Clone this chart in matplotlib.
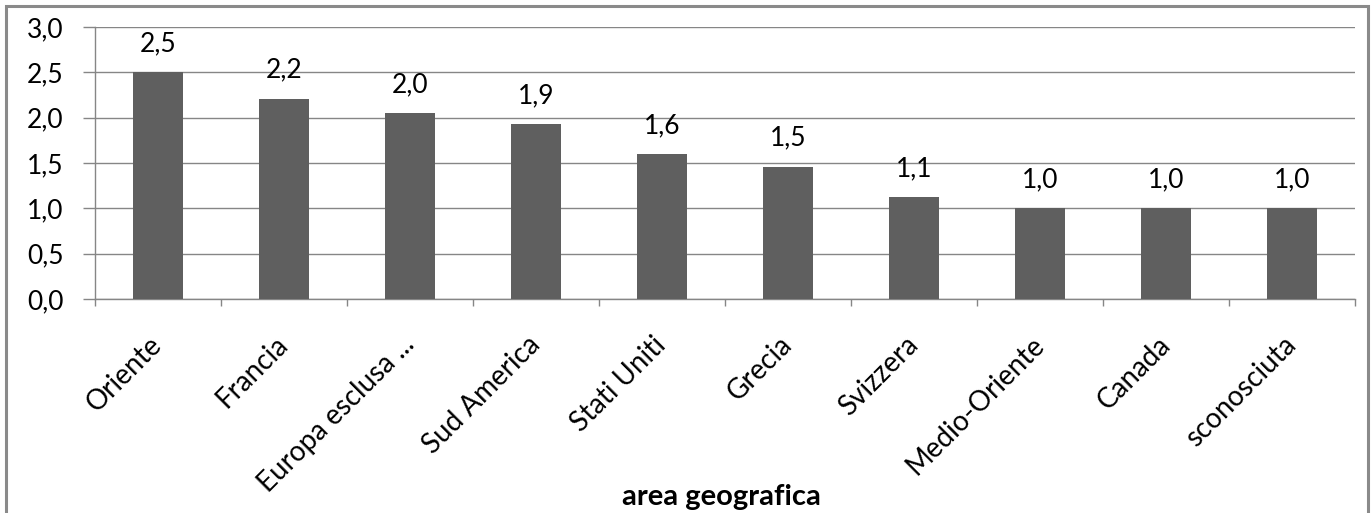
import matplotlib.pyplot as plt
import numpy as np
from matplotlib.patches import Rectangle

# media per area geografica
aree = ["Oriente", "Francia", "Europa esclusa ...", "Sud America", "Stati Uniti",
        "Grecia", "Svizzera", "Medio-Oriente", "Canada", "sconosciuta"]
valori = [2.50, 2.21, 2.047, 1.93, 1.60, 1.46, 1.12, 1.00, 1.00, 1.00]
y_ticks = [0.0, 0.5, 1.0, 1.5, 2.0, 2.5, 3.0]

plt.rcParams['font.family'] = ['Lato', 'DejaVu Sans']

grid_col = '#868686'
bar_col = '#5f5f5f'
fs = 19


def virgola(v):
    return f"{v:.1f}".replace('.', ',')


fig = plt.figure(figsize=(13.71, 5.13), dpi=100)
ax = fig.add_axes([95 / 1371, 1 - 299 / 513, 1260 / 1371, 272 / 513])

x = np.arange(len(aree))
ax.bar(x, valori, width=0.39, color=bar_col, zorder=3)

for xi, v in zip(x, valori):
    ax.text(xi, v + 0.23, virgola(v), ha='center', va='baseline', fontsize=fs)

ax.set_xlim(-0.5, len(aree) - 0.5)
ax.set_ylim(0, 3.0)
ax.set_yticks(y_ticks)
ax.set_yticklabels([virgola(t) for t in y_ticks], fontsize=fs)
ax.yaxis.grid(True, color=grid_col, linewidth=1, zorder=0)
ax.tick_params(axis='y', length=8.6, color=grid_col, width=1, pad=14)

ax.set_xticks(x)
ax.set_xticklabels(aree, rotation=45, ha='right', va='center',
                   rotation_mode='anchor', fontsize=20)
ax.tick_params(axis='x', which='major', length=0, pad=30)
ax.set_xticks(np.arange(len(aree) + 1) - 0.5, minor=True)
ax.tick_params(axis='x', which='minor', length=5, color=grid_col, width=1)

for side in ['top', 'right']:
    ax.spines[side].set_visible(False)
for side in ['left', 'bottom']:
    ax.spines[side].set_color(grid_col)
    ax.spines[side].set_linewidth(1)

fig.text(721 / 1371, 1 - 497 / 513, "area geografica", ha='center', va='center',
         fontsize=21, fontweight='bold')

# cornice esterna del grafico
fig.patches.append(Rectangle((6 / 1371, -0.02), 1362 / 1371, 1 - 6 / 513 + 0.02,
                             transform=fig.transFigure, fill=False,
                             edgecolor='#8a8a8a', linewidth=2.2))

fig.savefig('out.png', dpi=100)
